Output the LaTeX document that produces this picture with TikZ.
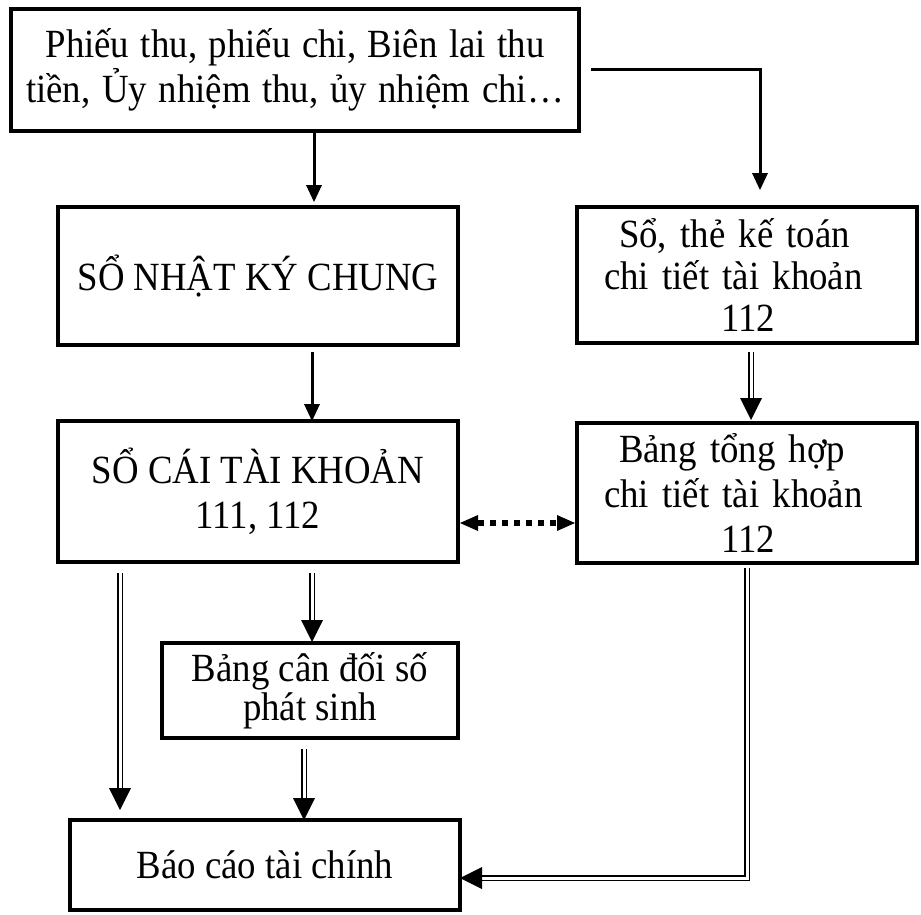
\documentclass[tikz,border=0pt]{standalone}
\usepackage{fontspec}
\setmainfont{Liberation Serif}[FakeStretch=0.92]
\usetikzlibrary{arrows.meta}

\begin{document}
\begin{tikzpicture}[x=0.5pt, y=-0.5pt,
  box/.style={draw, line width=2pt, inner sep=0pt, outer sep=0pt, anchor=north west,
    font=\fontsize{20}{22}\selectfont},
  flow/.style={line width=1.5pt, -{Triangle[width=8pt,length=8.5pt,line width=0pt]}},
  dblshaft/.style={double, line width=0.75pt, double distance=1.5pt},
  dbltip/.style={line width=0.75pt, -{Triangle[width=11pt,length=11pt,line width=0pt]}},
  linkdots/.style={line width=3pt, dash pattern=on 3pt off 3pt,
    {Triangle[width=8pt,length=9pt,line width=0pt]}-{Triangle[width=8pt,length=9pt,line width=0pt]}}]

\useasboundingbox (0,0) rectangle (921,915);

% boxes
\node[box, minimum width=284pt, minimum height=61pt, align=center,
  font={\fontsize{20}{20.5}\selectfont\spaceskip=5.8pt\relax}] (src) at (11,9)
  {Phiếu thu, phiếu chi, Biên lai thu\\tiền, Ủy nhiệm thu, ủy nhiệm chi…};
\node[box, minimum width=200pt, minimum height=69pt, align=center] (nkc) at (58,207)
  {SỔ NHẬT KÝ CHUNG};
\node[box, minimum width=170pt, minimum height=68pt, align=left,
  inner xsep=13.5pt, text width=143pt, font=\fontsize{20}{21}\selectfont] (sct) at (577,207)
  {\hspace*{7.5pt}Sổ, thẻ kế toán\\chi tiết tài khoản\\\hspace*{58.5pt}112};
\node[box, minimum width=200pt, minimum height=70.5pt, align=center,
  font=\fontsize{20}{22.5}\selectfont] (soc) at (58,421)
  {SỔ CÁI TÀI KHOẢN\\111, 112};
\node[box, minimum width=170pt, minimum height=70pt, align=left,
  inner xsep=13.5pt, text width=143pt, font=\fontsize{20}{22.5}\selectfont] (bth) at (577,423)
  {\hspace*{7.5pt}Bảng tổng hợp\\chi tiết tài khoản\\\hspace*{58.5pt}112};
\node[box, minimum width=148pt, minimum height=47.5pt, align=center,
  font=\fontsize{20}{19.5}\selectfont] (bcd) at (162,643)
  {Bảng cân đối số\\phát sinh};
\node[box, minimum width=195pt, minimum height=45pt, align=center] (bao) at (70,820)
  {Báo cáo tài chính};

% columns and rows used by the connectors
\coordinate (xa) at (314,0);
\coordinate (xb) at (760,0);
\coordinate (xc) at (312,0);
\coordinate (xd) at (751,0);
\coordinate (xl) at (120,0);
\coordinate (xn) at (304,0);
\coordinate (xr) at (747,0);
\coordinate (yd) at (0,523);
\coordinate (yr) at (0,878);

% single arrows
\draw[flow, shorten >=2.5pt] (src.south -| xa) -- (nkc.north -| xa);
\draw[flow, shorten <=6pt, shorten >=8.5pt] (src.east) -| (sct.north -| xb);
\draw[flow, shorten <=3.5pt] (nkc.south -| xc) -- (soc.north -| xc);

% detail ledgers -> detail summary
\coordinate (d1s) at (sct.south -| xd);
\coordinate (d1t) at (bth.north -| xd);
\draw[dblshaft] ([yshift=-4.5pt]d1s) -- ([yshift=11.5pt]d1t);
\draw[dbltip] ([yshift=12.5pt]d1t) -- ([yshift=1.5pt]d1t);

% general ledger -> financial report
\coordinate (d2s) at (soc.south -| xl);
\coordinate (d2t) at (bao.north -| xl);
\draw[dblshaft] ([yshift=-5.5pt]d2s) -- ([yshift=15pt]d2t);
\draw[dbltip] ([yshift=16pt]d2t) -- ([yshift=5pt]d2t);

% general ledger -> trial balance
\coordinate (d3s) at (soc.south -| xc);
\coordinate (d3t) at (bcd.north -| xc);
\draw[dblshaft] ([yshift=-5.5pt]d3s) -- ([yshift=10.5pt]d3t);
\draw[dbltip] ([yshift=11.5pt]d3t) -- ([yshift=0.5pt]d3t);

% trial balance -> financial report
\coordinate (d4s) at (bcd.south -| xn);
\coordinate (d4t) at (bao.north -| xn);
\draw[dblshaft] ([yshift=-5.5pt]d4s) -- ([yshift=10pt]d4t);
\draw[dbltip] ([yshift=11pt]d4t) -- (d4t);

% detail summary -> financial report
\coordinate (d5s) at (bth.south -| xr);
\coordinate (d5k) at (xr |- yr);
\coordinate (d5t) at (bao.east |- yr);
\draw[dblshaft] ([yshift=-2.5pt]d5s) -- (d5k) -- ([xshift=10pt]d5t);
\draw[dbltip] ([xshift=11pt]d5t) -- (d5t);

% reconciliation link
\coordinate (l1) at (soc.east |- yd);
\coordinate (l2) at (bth.west |- yd);
\draw[linkdots, shorten <=1pt, shorten >=1pt] (l1) -- (l2);
\end{tikzpicture}
\end{document}
